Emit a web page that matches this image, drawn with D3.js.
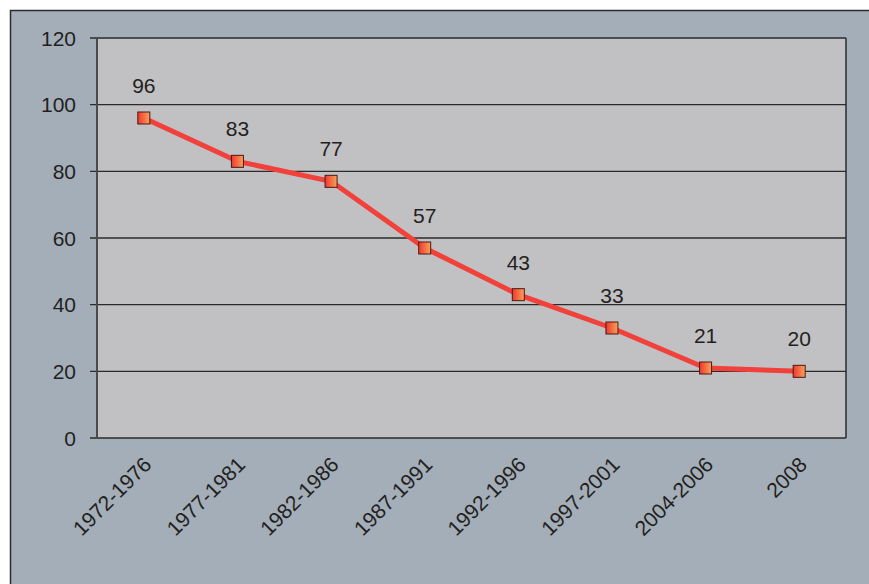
<!DOCTYPE html>
<html>
<head>
<meta charset="utf-8">
<script src="https://cdn.jsdelivr.net/npm/d3@7"></script>
<style>
  body { margin: 0; background: #ffffff; }
  svg { display: block; }
  text { font-family: "Liberation Sans", Arial, sans-serif; fill: #231f20; }
</style>
</head>
<body>
<div id="chart"></div>
<script>
// periods on the x axis
const periods = ["1972-1976", "1977-1981", "1982-1986", "1987-1991", "1992-1996", "1997-2001", "2004-2006", "2008"];
// values
const values = [96, 83, 77, 57, 43, 33, 21, 20];
const yTicks = [0, 20, 40, 60, 80, 100, 120];

const width = 869, height = 584;
const margin = { top: 38, right: 23, bottom: 146, left: 97 };

const svg = d3.select("#chart").append("svg")
  .attr("width", width)
  .attr("height", height);

// outer panel
svg.append("rect")
  .attr("x", 10.5).attr("y", 10.5)
  .attr("width", width).attr("height", height)
  .attr("fill", "#a3aeb8")
  .attr("stroke", "#2a2a2a")
  .attr("stroke-width", 1.5);

const x = d3.scaleBand()
  .domain(periods)
  .range([margin.left, width - margin.right]);

const y = d3.scaleLinear()
  .domain([0, 120])
  .range([height - margin.bottom, margin.top]);

// plot background
svg.append("rect")
  .attr("x", margin.left).attr("y", margin.top)
  .attr("width", width - margin.right - margin.left)
  .attr("height", y(0) - margin.top)
  .attr("fill", "#c1c0c2");

// gridlines
svg.append("g")
  .selectAll("line")
  .data(yTicks)
  .join("line")
  .attr("x1", margin.left - 7)
  .attr("x2", width - margin.right)
  .attr("y1", d => y(d))
  .attr("y2", d => y(d))
  .attr("stroke", "#2b2b2b")
  .attr("stroke-width", 1.3);

// left axis line and right border
svg.append("line")
  .attr("x1", margin.left).attr("x2", margin.left)
  .attr("y1", margin.top).attr("y2", y(0))
  .attr("stroke", "#4a4a4a").attr("stroke-width", 2);
svg.append("line")
  .attr("x1", width - margin.right).attr("x2", width - margin.right)
  .attr("y1", margin.top).attr("y2", y(0))
  .attr("stroke", "#2b2b2b").attr("stroke-width", 1.5);

// y tick labels
svg.append("g")
  .selectAll("text")
  .data(yTicks)
  .join("text")
  .attr("x", 76)
  .attr("y", d => y(d) + 7.5)
  .attr("text-anchor", "end")
  .style("font-size", "21px")
  .text(d => d);

// x tick labels, rotated
svg.append("g")
  .selectAll("text")
  .data(periods)
  .join("text")
  .attr("text-anchor", "end")
  .attr("transform", d => `translate(${x(d) + x.bandwidth() / 2 + 9},${y(0) + 28}) rotate(-45)`)
  .style("font-size", "21px")
  .text(d => d);

// line
const line = d3.line()
  .x((d, i) => x(periods[i]) + x.bandwidth() / 2)
  .y(d => y(d));

svg.append("path")
  .datum(values)
  .attr("d", line)
  .attr("fill", "none")
  .attr("stroke", "#f2403a")
  .attr("stroke-width", 5)
  .attr("stroke-linejoin", "round");

// marker gradient
const grad = svg.append("defs").append("linearGradient")
  .attr("id", "mk")
  .attr("x1", "0%").attr("x2", "100%")
  .attr("y1", "0%").attr("y2", "0%");
grad.append("stop").attr("offset", "0%").attr("stop-color", "#f0382e");
grad.append("stop").attr("offset", "100%").attr("stop-color", "#f8a25a");

svg.append("g")
  .selectAll("rect")
  .data(values)
  .join("rect")
  .attr("x", (d, i) => x(periods[i]) + x.bandwidth() / 2 - 6)
  .attr("y", d => y(d) - 6)
  .attr("width", 12)
  .attr("height", 12)
  .attr("fill", "url(#mk)")
  .attr("stroke", "#4a1a14")
  .attr("stroke-width", 1);

// value labels
svg.append("g")
  .selectAll("text")
  .data(values)
  .join("text")
  .attr("x", (d, i) => x(periods[i]) + x.bandwidth() / 2)
  .attr("y", d => y(d) - 25)
  .attr("text-anchor", "middle")
  .style("font-size", "21px")
  .text(d => d);
</script>
</body>
</html>
